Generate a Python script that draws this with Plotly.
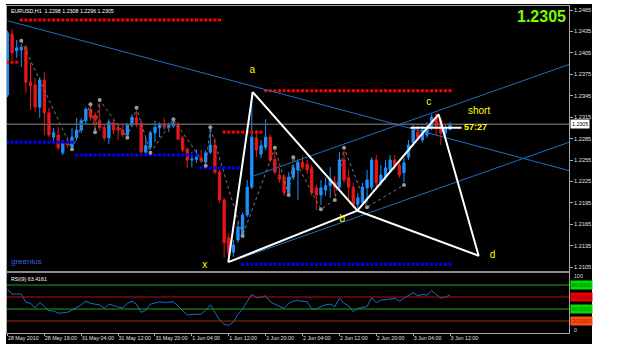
import plotly.graph_objects as go

# ---------------- data ----------------
bars = list(range(97))
opens = [1.2346,1.2431,1.2408,1.2409,1.2413,1.2364,1.2360,1.2329,1.2367,1.2321,
1.2287,1.2290,1.2265,1.2280,1.2273,1.2286,1.2297,1.2310,1.2326,1.2318,
1.2310,1.2301,1.2286,1.2307,1.2301,1.2297,1.2290,1.2304,1.2314,1.2307,
1.2266,1.2273,1.2293,1.2300,1.2305,1.2301,1.2303,1.2305,1.2286,1.2270,
1.2255,1.2256,1.2258,1.2252,1.2266,1.2276,1.2238,1.2199,1.2146,1.2126,
1.2143,1.2147,1.2178,1.2217,1.2286,1.2263,1.2273,1.2287,1.2256,1.2234,
1.2231,1.2209,1.2231,1.2241,1.2252,1.2249,1.2244,1.2216,1.2206,1.2213,
1.2219,1.2224,1.2217,1.2255,1.2230,1.2217,1.2193,1.2196,1.2216,1.2217,
1.2255,1.2223,1.2231,1.2241,1.2255,1.2248,1.2237,1.2259,1.2279,1.2294,
1.2283,1.2290,1.2301,1.2315,1.2311,1.2293,1.2298]
highs = [1.2436,1.2438,1.2423,1.2417,1.2416,1.2391,1.2370,1.2371,1.2378,1.2328,
1.2300,1.2301,1.2283,1.2287,1.2300,1.2314,1.2314,1.2329,1.2331,1.2322,
1.2335,1.2305,1.2312,1.2311,1.2307,1.2304,1.2307,1.2319,1.2324,1.2310,
1.2287,1.2296,1.2310,1.2308,1.2314,1.2307,1.2310,1.2308,1.2289,1.2273,
1.2266,1.2270,1.2269,1.2269,1.2296,1.2286,1.2241,1.2202,1.2153,1.2143,
1.2168,1.2182,1.2227,1.2350,1.2297,1.2283,1.2312,1.2291,1.2269,1.2244,
1.2235,1.2238,1.2249,1.2256,1.2261,1.2255,1.2248,1.2220,1.2227,1.2230,
1.2245,1.2233,1.2266,1.2268,1.2241,1.2223,1.2209,1.2223,1.2241,1.2259,
1.2262,1.2248,1.2255,1.2262,1.2262,1.2255,1.2258,1.2283,1.2304,1.2303,
1.2303,1.2308,1.2319,1.2321,1.2315,1.2304,1.2308]
lows = [1.2343,1.2395,1.2398,1.2385,1.2349,1.2325,1.2322,1.2314,1.2290,1.2287,
1.2279,1.2269,1.2262,1.2272,1.2269,1.2282,1.2293,1.2305,1.2310,1.2297,
1.2296,1.2282,1.2277,1.2291,1.2283,1.2287,1.2289,1.2301,1.2301,1.2265,
1.2262,1.2269,1.2280,1.2287,1.2297,1.2294,1.2300,1.2283,1.2266,1.2244,
1.2245,1.2251,1.2251,1.2249,1.2263,1.2235,1.2195,1.2118,1.2112,1.2119,
1.2139,1.2146,1.2175,1.2214,1.2259,1.2258,1.2269,1.2252,1.2235,1.2223,
1.2205,1.2207,1.2227,1.2199,1.2241,1.2235,1.2205,1.2185,1.2192,1.2205,
1.2202,1.2206,1.2213,1.2223,1.2199,1.2188,1.2184,1.2192,1.2195,1.2213,
1.2213,1.2219,1.2227,1.2237,1.2241,1.2230,1.2224,1.2255,1.2275,1.2282,
1.2279,1.2286,1.2297,1.2290,1.2276,1.2289,1.2296]
closes = [1.2433,1.2405,1.2412,1.2413,1.2364,1.2359,1.2329,1.2367,1.2321,1.2290,
1.2293,1.2272,1.2279,1.2276,1.2287,1.2297,1.2310,1.2326,1.2315,1.2310,
1.2300,1.2286,1.2308,1.2297,1.2297,1.2290,1.2304,1.2315,1.2304,1.2266,
1.2275,1.2293,1.2301,1.2305,1.2301,1.2303,1.2307,1.2284,1.2269,1.2255,
1.2256,1.2259,1.2254,1.2265,1.2276,1.2238,1.2199,1.2139,1.2125,1.2136,
1.2161,1.2178,1.2217,1.2287,1.2269,1.2275,1.2287,1.2255,1.2238,1.2228,
1.2209,1.2231,1.2244,1.2252,1.2245,1.2241,1.2209,1.2206,1.2216,1.2219,
1.2228,1.2216,1.2255,1.2227,1.2217,1.2192,1.2202,1.2217,1.2227,1.2255,
1.2223,1.2234,1.2244,1.2255,1.2248,1.2234,1.2251,1.2276,1.2297,1.2286,
1.2297,1.2301,1.2315,1.2301,1.2293,1.2300,1.2305]

rsi = [73,65,65,65,51,49.5,42,51,44,37,
37,33,33.5,34.5,38,42,47,53,49.5,48,
47,41,48,46,43,42,49.5,53,48,34.5,
38,48,50,52,51,51.5,52,45,38,30,
31,31.5,31.5,38,47,34.5,22,14,13,18,
31,40,52,64.5,59,59.5,62,52,48,44,
41,49.5,53,54,53,52,40,40,44,47,
48,44,58,49.5,45,35.5,41,43,44,59,
50.5,55,55.5,56.5,58,53,58,63,67,62,
64.5,63,70.5,64.5,58,60,63.4161]
rsi_levels = [80, 60, 40, 20]
rsi_level_colors = ["#1FA01F", "#B81010", "#1FA01F", "#A02A05"]
rsi_box_colors = ["#00E000", "#EE0000", "#00E000", "#FF5010"]
rsi_text_colors = ["#006000", "#7A0000", "#006000", "#8A2000"]

time_ticks = list(range(0, 97, 8))
time_labels = ["28 May 2010", "28 May 19:00", "31 May 04:00", "31 May 12:00",
               "31 May 20:00", "1 Jun 04:00", "1 Jun 12:00", "1 Jun 20:00",
               "2 Jun 04:00", "2 Jun 12:00", "2 Jun 20:00", "3 Jun 04:00",
               "3 Jun 12:00"]
price_ticks = [round(1.2105 + 0.003 * k, 4) for k in range(13)]
price_labels = [f"{v:.4f}" for v in price_ticks]

# per-bar support / resistance dots: (first bar, last bar, level)
res_segments = [(0, 2, 1.2392), (3, 46, 1.2451), (47, 55, 1.2294), (56, 96, 1.2352)]
sup_segments = [(0, 14, 1.2280), (15, 41, 1.2262), (42, 50, 1.2244), (51, 96, 1.2109)]

fractal_bars = [3, 14, 18, 19, 20, 26, 28, 31, 36, 43, 44, 51, 58, 61, 62, 68, 71, 73, 78, 86]
fractal_prices = [1.2422, 1.2270, 1.2333, 1.2294, 1.2339, 1.2286, 1.2328, 1.2265, 1.2312,
                  1.2247, 1.2301, 1.2149, 1.2272, 1.2206, 1.2259, 1.2186, 1.2199, 1.2272,
                  1.2189, 1.2220]

pattern_names = ["x", "a", "b", "c", "d"]
pattern_bars = [47.9, 53.2, 75.9, 93.5, 102.2]
pattern_prices = [1.2112, 1.2350, 1.2184, 1.2319, 1.2121]
label_bars = [42.8, 53.1, 72.6, 91.4, 105.2]
label_prices = [1.2107, 1.2381, 1.2172, 1.2335, 1.2122]

trend_lines = [((0.0, 1.2450), (121.9, 1.2240)),
               ((52.7, 1.2231), (121.9, 1.2389)),
               ((47.7, 1.2111), (121.9, 1.2280))]

current_price = 1.2305
timer_line = ((87.4, 1.2300), (98.5, 1.2300))

# ---------------- figure ----------------
W, H = 625, 349
ML, MR, MT, MB = 7, 56, 5, 16
PW, PH = W - ML - MR, H - MT - MB
F = "Liberation Sans"
SMALL = 5.3


def px_x(p):
    return (p - ML) / PW


def px_y(p):
    return (H - MB - p) / PH


fig = go.Figure()

# fractal zigzag (dotted grey)
fig.add_trace(go.Scatter(x=fractal_bars, y=fractal_prices, mode="lines",
                         line=dict(color="#7A7A7A", width=1, dash="dot"), hoverinfo="skip"))

fig.add_trace(go.Candlestick(
    x=bars, open=opens, high=highs, low=lows, close=closes,
    increasing=dict(line=dict(color="#1E90FF", width=1), fillcolor="#1E90FF"),
    decreasing=dict(line=dict(color="#E8161B", width=1), fillcolor="#E8161B"),
    whiskerwidth=0, hoverinfo="skip", xaxis="x", yaxis="y"))

# support/resistance dots
for segs, col in ((res_segments, "#FF0000"), (sup_segments, "#0000FF")):
    xs, ys = [], []
    for a, b, lv in segs:
        for i in range(a, b + 1):
            xs.append(i)
            ys.append(lv)
    fig.add_trace(go.Scatter(x=xs, y=ys, mode="markers", xaxis="x", yaxis="y",
                             marker=dict(symbol="square", size=3, color=col),
                             hoverinfo="skip"))

# fractal dots
fig.add_trace(go.Scatter(x=fractal_bars, y=fractal_prices, mode="markers",
                         marker=dict(size=4, color="#9A9A9A"), hoverinfo="skip"))

# trend lines
for (x0, y0), (x1, y1) in trend_lines:
    fig.add_trace(go.Scatter(x=[x0, x1], y=[y0, y1], mode="lines",
                             line=dict(color="#1F6FC5", width=1), hoverinfo="skip"))

# current price line
fig.add_trace(go.Scatter(x=[-1, 125], y=[current_price, current_price], mode="lines",
                         line=dict(color="#5E5E5E", width=1.5), hoverinfo="skip"))

# pattern (two triangles)
P = dict(zip(pattern_names, zip(pattern_bars, pattern_prices)))
path = ["x", "a", "b", "x", None, "b", "c", "d", "b"]
fig.add_trace(go.Scatter(
    x=[P[k][0] if k else None for k in path],
    y=[P[k][1] if k else None for k in path],
    mode="lines", line=dict(color="white", width=2), hoverinfo="skip"))

# timer line
fig.add_trace(go.Scatter(x=[timer_line[0][0], timer_line[1][0]],
                         y=[timer_line[0][1], timer_line[1][1]], mode="lines",
                         line=dict(color="white", width=2), hoverinfo="skip"))

# pattern labels
fig.add_trace(go.Scatter(x=label_bars, y=label_prices, mode="text", text=pattern_names,
                         textfont=dict(color="#FFFF00", size=10, family=F),
                         hoverinfo="skip"))

# RSI
fig.add_trace(go.Scatter(x=bars, y=rsi, mode="lines", xaxis="x2", yaxis="y2",
                         line=dict(color="#1F6FC5", width=1), hoverinfo="skip"))

shapes = []
# black background incl. scale area
shapes.append(dict(type="rect", xref="paper", yref="paper", layer="below",
                   x0=px_x(6), x1=px_x(592), y0=px_y(344), y1=px_y(4),
                   fillcolor="black", line=dict(width=0)))
for lv, c in zip(rsi_levels, rsi_level_colors):
    shapes.append(dict(type="line", xref="paper", yref="y2", x0=0, x1=1, y0=lv, y1=lv,
                       line=dict(color=c, width=1.2)))
frame = "#A8A8A8"
shapes += [
    dict(type="line", xref="paper", yref="paper", x0=px_x(6.5), x1=px_x(6.5),
         y0=px_y(333), y1=px_y(5), line=dict(color=frame, width=1)),
    dict(type="line", xref="paper", yref="paper", x0=px_x(6.5), x1=px_x(569.5),
         y0=px_y(5.5), y1=px_y(5.5), line=dict(color=frame, width=1)),
    dict(type="line", xref="paper", yref="paper", x0=px_x(569.5), x1=px_x(569.5),
         y0=px_y(333.5), y1=px_y(5), line=dict(color=frame, width=1)),
    dict(type="line", xref="paper", yref="paper", x0=px_x(6.5), x1=px_x(569.5),
         y0=px_y(333.5), y1=px_y(333.5), line=dict(color=frame, width=1)),
    dict(type="line", xref="paper", yref="paper", x0=px_x(6.5), x1=px_x(569.5),
         y0=px_y(272), y1=px_y(272), line=dict(color="#8A8A8A", width=2)),
]

ann = [
    dict(xref="paper", yref="paper", x=px_x(9), y=px_y(11), xanchor="left", yanchor="middle",
         text="EURUSD,H1  1.2298 1.2308 1.2296 1.2305", showarrow=False,
         font=dict(size=SMALL, color="white", family=F)),
    dict(xref="paper", yref="paper", x=px_x(568), y=px_y(16.5), xanchor="right", yanchor="middle",
         text="<b>1.2305</b>", showarrow=False, font=dict(size=16, color="#7CFC00", family=F)),
    dict(xref="paper", yref="paper", x=px_x(9), y=px_y(261), xanchor="left", yanchor="middle",
         text="greenius", showarrow=False, font=dict(size=8, color="#3A5FE5", family=F)),
    dict(xref="paper", yref="paper", x=px_x(9), y=px_y(279), xanchor="left", yanchor="middle",
         text="RSI(9) 63.4161", showarrow=False, font=dict(size=SMALL, color="white", family=F)),
    dict(xref="x", yref="y", x=102.2, y=1.2324, text="short", showarrow=False,
         font=dict(size=10, color="#FFFF00", family=F)),
    dict(xref="x", yref="y", x=101.5, y=1.2301, text="<b>57:27</b>", showarrow=False,
         font=dict(size=9, color="#FFFF00", family=F)),
    dict(xref="paper", yref="y", x=px_x(570), y=current_price, xanchor="left", yanchor="middle",
         text="1.2305", showarrow=False, bgcolor="white", borderpad=1,
         font=dict(size=SMALL, color="black", family=F)),
    dict(xref="paper", yref="y2", x=px_x(572), y=95, xanchor="left", yanchor="middle",
         text="100", showarrow=False, font=dict(size=SMALL, color="#DDDDDD", family=F)),
    dict(xref="paper", yref="y2", x=px_x(572), y=5, xanchor="left", yanchor="middle",
         text="0", showarrow=False, font=dict(size=SMALL, color="#DDDDDD", family=F)),
]
for lv, bc, tc in zip(rsi_levels, rsi_box_colors, rsi_text_colors):
    ann.append(dict(xref="paper", yref="y2", x=px_x(570), y=lv, xanchor="left", yanchor="middle",
                    text=f"{lv:.4f}", showarrow=False, bgcolor=bc, borderpad=1,
                    font=dict(size=SMALL, color=tc, family=F)))

fig.update_layout(
    width=W, height=H, margin=dict(l=ML, r=MR, t=MT, b=MB, autoexpand=False),
    paper_bgcolor="white", plot_bgcolor="black", showlegend=False,
    shapes=shapes, annotations=ann,
    xaxis=dict(domain=[0, 1], range=[-0.1, 121.8], anchor="y", showticklabels=False,
               showgrid=False, zeroline=False, rangeslider=dict(visible=False), fixedrange=True,
               automargin=False),
    yaxis=dict(domain=[px_y(271), 1], range=[1.20996, 1.2472], side="right", anchor="x",
               tickvals=price_ticks, ticktext=price_labels, showgrid=False, zeroline=False,
               ticks="outside", ticklen=3, tickcolor="#A8A8A8", automargin=False,
               tickfont=dict(size=5.6, color="#E0E0E0", family=F)),
    xaxis2=dict(domain=[0, 1], matches="x", anchor="y2", tickvals=time_ticks, ticktext=time_labels,
                showgrid=False, zeroline=False, ticks="outside", ticklen=2, tickcolor="#A8A8A8",
                ticklabelposition="outside right", tickangle=0, automargin=False,
                tickfont=dict(size=SMALL, color="#E0E0E0", family=F)),
    yaxis2=dict(domain=[0, px_y(273)], range=[0, 100], side="right", anchor="x2",
                showticklabels=False, showgrid=False, zeroline=False, automargin=False),
)

fig.write_html("out.html")
